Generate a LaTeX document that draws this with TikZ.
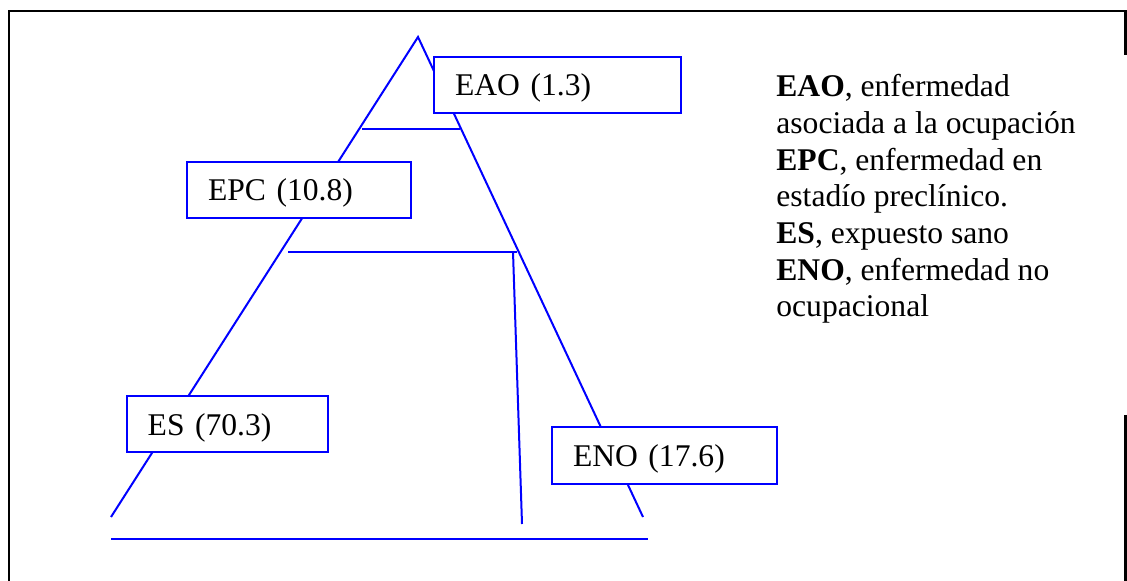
\documentclass[tikz,border=0pt]{standalone}
\usepackage{fontspec}
\setmainfont{Liberation Serif}
\definecolor{azul}{rgb}{0,0,1}
\definecolor{black}{rgb}{0,0,0}
\tikzset{
	caja/.style={draw=azul, fill=white, line width=1pt, inner xsep=10.5pt, inner ysep=0pt, minimum height=28pt, text height=11pt, text depth=0pt, align=left, text width=#1, font=\fontsize{15.8}{18.35}\selectfont},
	linea/.style={draw=azul, line width=1pt},
	marco/.style={draw=black, line width=1.2pt}
}

\begin{document}
\begin{tikzpicture}[x=0.5pt, y=-0.5pt]
	\useasboundingbox (0,0) rectangle (1127,581);

	\coordinate (M1) at (9,581);	% marco
	\coordinate (M2) at (9,11);
	\coordinate (M3) at (1125.5,11);
	\coordinate (M4) at (1125.5,55);
	\coordinate (M5) at (1125.5,415);
	\coordinate (M6) at (1125.5,581);
	\draw[marco] (M1) -- (M2) -- (M3) -- (M4);
	\draw[marco] (M5) -- (M6);

	\coordinate (A) at (418,37);	% piramide
	\coordinate (B) at (111,517);
	\coordinate (C) at (643,517);
	\draw[linea] (B) -- (A) -- (C);

	\coordinate (H1) at (362,129);	% niveles
	\coordinate (H2) at (460,129);
	\draw[linea] (H1) -- (H2);
	\coordinate (H3) at (288,252);
	\coordinate (H4) at (517,252);
	\draw[linea] (H3) -- (H4);
	\coordinate (V1) at (513,252);
	\coordinate (V2) at (522,524);
	\draw[linea] (V1) -- (V2);
	\coordinate (P1) at (111,539);	% base
	\coordinate (P2) at (648,539);
	\draw[linea] (P1) -- (P2);

	\node[caja=102.3pt] (EAO) at (557.4,84.9) {EAO (1.3)};
	\node[caja=90.8pt] (EPC) at (298.9,190) {EPC (10.8)};
	\node[caja=79.5pt] (ES) at (227.2,424.3) {ES (70.3)};
	\node[caja=91.3pt] (ENO) at (664.3,455.5) {ENO (17.6)};

	\node[anchor=north west, align=left, inner sep=0pt, font=\fontsize{15.8}{18.35}\selectfont] (L) at (776,74) {%
		\textbf{EAO}, enfermedad\\
		asociada a la ocupación\\
		\textbf{EPC}, enfermedad en\\
		estadío preclínico.\\
		\textbf{ES}, expuesto sano\\
		\textbf{ENO}, enfermedad no\\
		ocupacional};
\end{tikzpicture}
\end{document}
